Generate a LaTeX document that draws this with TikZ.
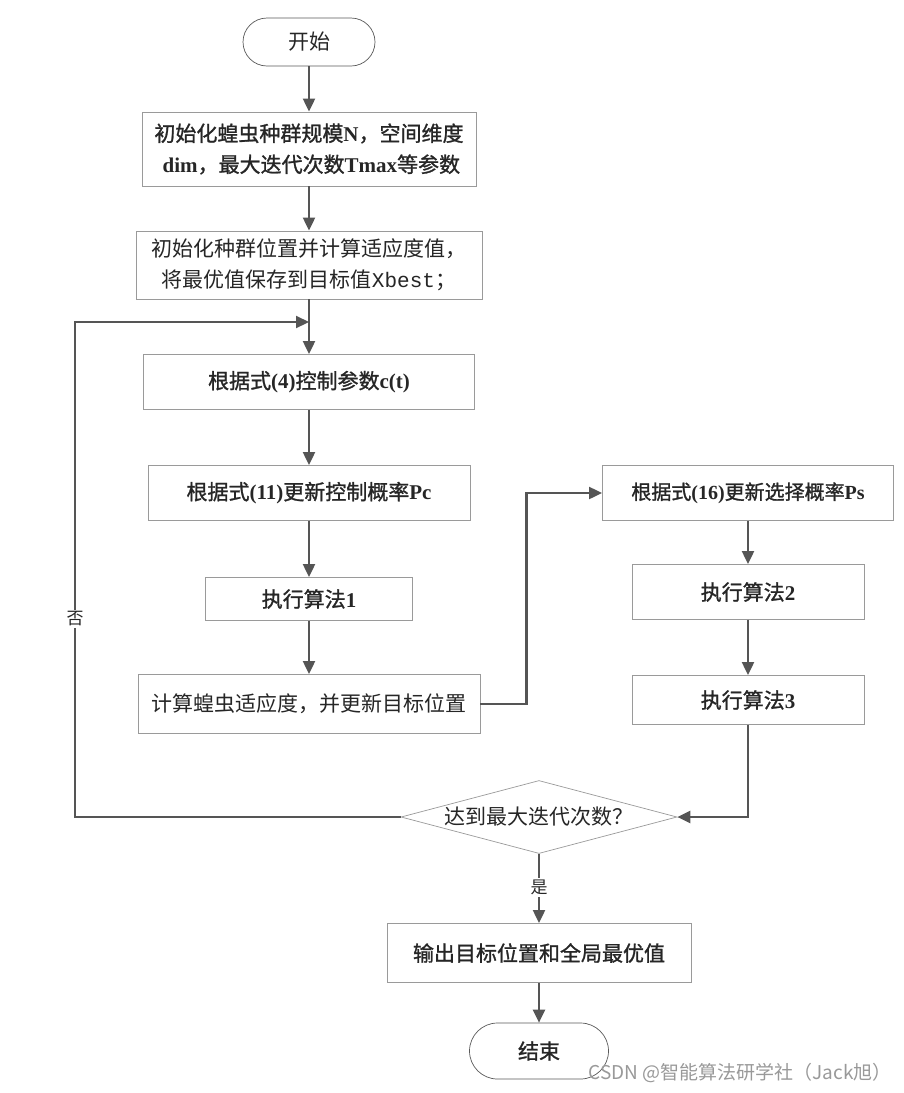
\documentclass[tikz,border=0pt]{standalone}
\usepackage{fontspec}
\setmainfont{Noto Sans CJK SC}
\newfontfamily\cjkb[FakeBold=1.2]{Noto Sans CJK SC}
\newfontfamily\lat{Liberation Serif}
\newfontfamily\mono{Liberation Mono}
\usetikzlibrary{arrows.meta,shapes.geometric}
\definecolor{linec}{HTML}{555555}
\definecolor{boxc}{HTML}{9A9A9A}
\definecolor{textc}{HTML}{262626}
\tikzstyle{procbox}=[draw=boxc,line width=0.9pt,rectangle,inner sep=0pt,align=center,text=textc,font=\fontsize{21}{31}\selectfont]
\tikzstyle{termbox}=[draw=black!65,line width=0.7pt,rectangle,rounded corners=24pt,inner sep=0pt,text=textc,font=\fontsize{21}{31}\selectfont]
\tikzstyle{decbox}=[draw=boxc,line width=0.7pt,diamond,aspect=3.78,inner sep=0pt,text=textc,font=\fontsize{21}{31}\selectfont]
\tikzstyle{flow}=[draw=linec,line width=2.2pt,-{Triangle[length=13pt,width=12pt]}]
\tikzstyle{flowlabel}=[fill=white,inner sep=2pt,text=textc,font=\fontsize{17}{20}\selectfont]

\begin{document}
\begin{tikzpicture}[x=1pt,y=-1pt]
    \useasboundingbox[fill=white] (0,0) rectangle (904,1093);
    \node[termbox,minimum width=132pt,minimum height=48pt] (start) at (309,42) {开始};
    \node[procbox,minimum width=334pt,minimum height=74pt] (init) at (309,149)
        {\cjkb 初始化蝗虫种群规模{\lat\bfseries N}，空间维度\\\cjkb\ {\lat\bfseries dim}，最大迭代次数{\lat\bfseries Tmax}等参数};
    \node[procbox,minimum width=346pt,minimum height=68pt] (initpos) at (309,265)
        {初始化种群位置并计算适应度值，\\将最优值保存到目标值{\mono Xbest}；};
    \node[procbox,minimum width=331pt,minimum height=55pt] (ctrl) at (309,382)
        {\cjkb 根据式{\lat\bfseries (4)}控制参数{\lat\bfseries c(t)}};
    \node[procbox,minimum width=322pt,minimum height=55pt] (updpc) at (309,493)
        {\cjkb 根据式{\lat\bfseries (11)}更新控制概率{\lat\bfseries Pc}};
    \node[procbox,minimum width=207pt,minimum height=43pt] (alg1) at (309,599)
        {\cjkb 执行算法{\lat\bfseries 1}};
    \node[procbox,minimum width=342pt,minimum height=59pt] (fit) at (309,704)
        {计算蝗虫适应度，并更新目标位置};
    \node[procbox,minimum width=291pt,minimum height=55pt,font=\fontsize{20}{30}\selectfont] (updps) at (748,493)
        {\cjkb 根据式{\lat\bfseries (16)}更新选择概率{\lat\bfseries Ps}};
    \node[procbox,minimum width=232pt,minimum height=55pt] (alg2) at (748,592)
        {\cjkb 执行算法{\lat\bfseries 2}};
    \node[procbox,minimum width=232pt,minimum height=49pt] (alg3) at (748,700)
        {\cjkb 执行算法{\lat\bfseries 3}};
    \node[decbox,minimum width=276pt,minimum height=73pt] (check) at (539,817)
        {达到最大迭代次数？};
    \node[procbox,minimum width=304pt,minimum height=59pt] (out) at (539,953)
        {\cjkb 输出目标位置和全局最优值};
    \node[termbox,minimum width=139pt,minimum height=56pt,rounded corners=28pt] (stop) at (539,1051)
        {\cjkb 结束};
    \node[text=black!40,font=\fontsize{19}{22}\selectfont] (wmark) at (740,1073)
        {CSDN @智能算法研学社（Jack旭）};
    \coordinate (merge) at (309,322);
    \coordinate (loopx) at (75,0);

    \foreach \from/\to in {start/init,init/initpos,initpos/ctrl,ctrl/updpc,updpc/alg1,alg1/fit,updps/alg2,alg2/alg3,out/stop}
    \draw[flow] (\from) -- (\to);
    \draw[flow] (fit.east) -- ++(46,0) |- (updps.west);
    \draw[flow] (alg3.south) |- (check.east);
    \draw[flow] (check.west) -- (check.west -| loopx) |- node[flowlabel,pos=0.2] {否} (merge);
    \draw[flow] (check.south) -- node[flowlabel,pos=0.48] {是} (out.north);
\end{tikzpicture}
\end{document}
